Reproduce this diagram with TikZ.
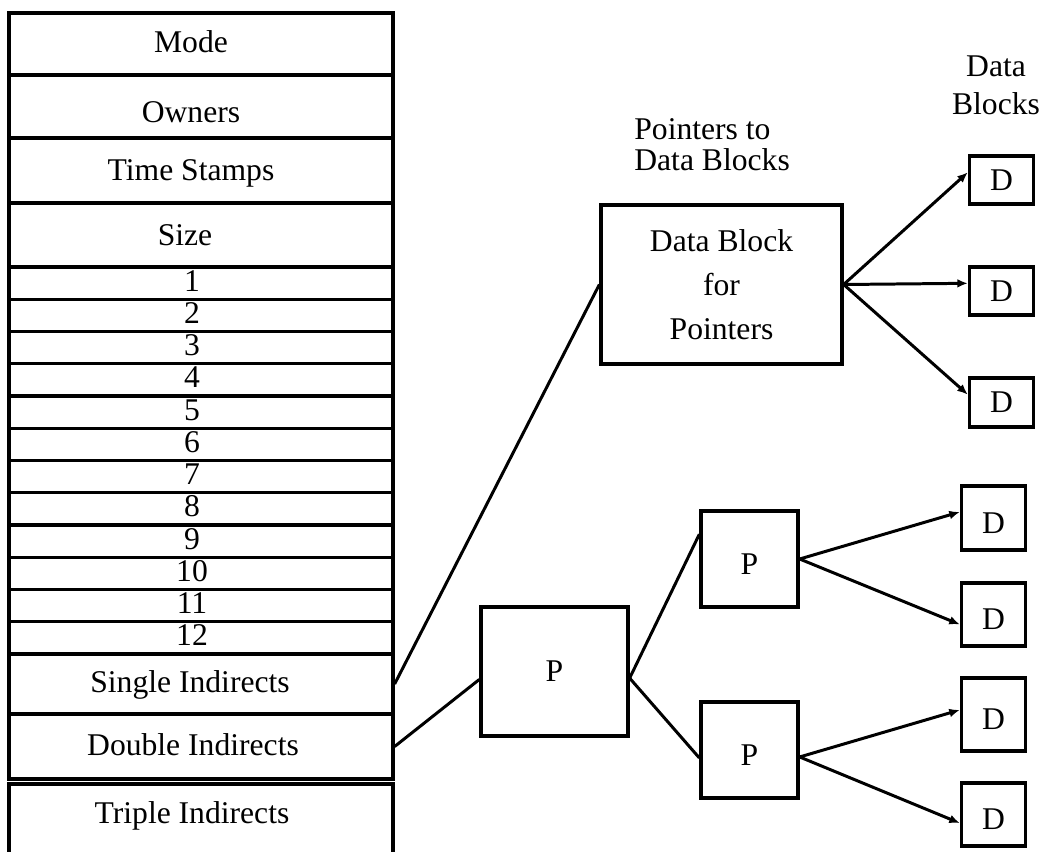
\documentclass[tikz,border=0pt]{standalone}
\usepackage{fontspec}
\setmainfont{Liberation Serif}
\usetikzlibrary{arrows.meta,calc}

\tikzset{
	cell/.style={draw, line width=1.9pt, minimum width=7.68cm, inner sep=0pt},
	blk/.style={draw, line width=1.9pt, inner sep=0pt},
	dbox/.style={blk, minimum width=1.28cm},
	low/.style={text height=0.62cm},
	lbl/.style={inner sep=0pt, anchor=base},
	link/.style={line width=1.7pt},
	ptr/.style={line width=1.7pt, -{Latex[length=6pt,width=5pt]}},
}

\begin{document}
\begin{tikzpicture}[x=0.02cm, y=-0.02cm, font=\fontsize{18}{22}\selectfont]
		\useasboundingbox (0,0) rectangle (1043,851);
		\clip (0,0) rectangle (1043,851);

		% Поля индексного дескриптора
		\node[cell, minimum height=1.24cm] (mode) at (201,44) {};
		\node[lbl] (tmode) at (191,53) {Mode};
		\node[cell, minimum height=1.26cm] (owners) at (201,106.5) {};
		\node[lbl] (towners) at (191,123) {Owners};
		\node[cell, minimum height=1.30cm] (stamps) at (201,170.5) {};
		\node[lbl] (tstamps) at (191,180) {Time Stamps};
		\node[cell, minimum height=1.28cm] (size) at (201,235) {};
		\node[lbl] (tsize) at (185,245) {Size};

		% Прямые адреса блоков
		\foreach \i in {1,...,12} {
				\pgfmathsetmacro{\ytop}{267 + (\i-1)*32.25}
				\node[cell, minimum height=0.645cm] (r\i) at (201,\ytop+16.125) {};
				\node[lbl] (n\i) at (192,\ytop+24) {\i};
			}

		% Косвенные адреса
		\node[cell, minimum height=1.2cm] (single) at (201,684) {};
		\node[lbl] (tsingle) at (190,692) {Single Indirects};
		\node[cell, minimum height=1.3cm] (double) at (201,746.5) {};
		\node[lbl] (tdouble) at (193,755) {Double Indirects};
		\node[cell, minimum height=2.32cm] (triple) at (201,842) {};
		\node[lbl] (ttriple) at (192,823) {Triple Indirects};

		% Одинарная косвенность
		\node[inner sep=0pt, anchor=north west, align=left, font=\fontsize{18}{17.6}\selectfont] (hptr) at (634,118) {Pointers to\\Data Blocks};
		\node[inner sep=0pt, anchor=north, align=center] (hdata) at (996,55) {Data\\Blocks};
		\node[blk, minimum width=4.82cm, minimum height=3.18cm, align=center, font=\fontsize{18}{25}\selectfont] (dbp) at (721.5,284.5) {Data Block\\for\\Pointers};
		\node[dbox, minimum height=0.96cm] (da) at (1001.5,180) {D};
		\node[dbox, minimum height=0.96cm] (db) at (1001.5,291) {D};
		\node[dbox, minimum height=0.98cm] (dc) at (1001.5,402.5) {D};

		% Двойная косвенность
		\node[blk, minimum width=2.94cm, minimum height=2.58cm] (pp) at (554.5,671.5) {P};
		\node[blk, low, minimum width=1.94cm, minimum height=1.92cm] (pa) at (749.5,559) {P};
		\node[blk, low, minimum width=1.94cm, minimum height=1.92cm] (pb) at (749.5,750) {P};
		\node[dbox, low, minimum height=1.28cm] (d1) at (993.5,518) {D};
		\node[dbox, low, minimum height=1.26cm] (d2) at (993.5,614.5) {D};
		\node[dbox, low, minimum height=1.46cm] (d3) at (993.5,714.5) {D};
		\node[dbox, low, minimum height=1.26cm] (d4) at (993.5,814.5) {D};

		% Связи
		\draw[link] (single.east) -- (dbp.west);
		\draw[link] (double.east) -- ($(pp.north west)!0.56!(pp.south west)$);
		\draw[link] ($(pp.north east)!0.55!(pp.south east)$) -- ($(pa.north west)!0.25!(pa.south west)$);
		\draw[link] ($(pp.north east)!0.55!(pp.south east)$) -- ($(pb.north west)!0.58!(pb.south west)$);
		\foreach \dn in {da,db,dc}
			\draw[ptr] (dbp.east) -- ($(\dn.north west)!0.35!(\dn.south west)$);
		\draw[ptr] (pa.east) -- ($(d1.north west)!0.41!(d1.south west)$);
		\draw[ptr] (pa.east) -- ($(d2.north west)!0.65!(d2.south west)$);
		\draw[ptr] ($(pb.north east)!0.57!(pb.south east)$) -- ($(d3.north west)!0.44!(d3.south west)$);
		\draw[ptr] ($(pb.north east)!0.57!(pb.south east)$) -- ($(d4.north west)!0.63!(d4.south west)$);
	\end{tikzpicture}
\end{document}
